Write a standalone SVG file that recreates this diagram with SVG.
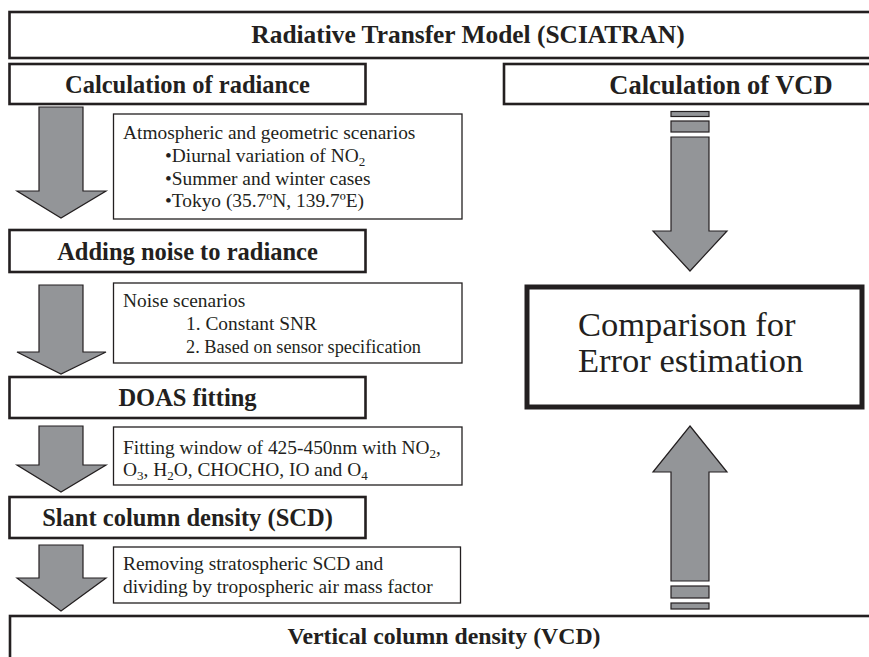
<svg xmlns="http://www.w3.org/2000/svg" width="869" height="657" viewBox="0 0 869 657">
<style>
.proc{fill:#fff;stroke:#231f20;stroke-width:2.6}
.info{fill:#fff;stroke:#231f20;stroke-width:1.3}
.cmp{fill:#fff;stroke:#231f20;stroke-width:5}
.arr{fill:#939598;stroke:#231f20;stroke-width:1.2;stroke-linejoin:miter}
.tb{font-family:"Liberation Serif",serif;font-weight:bold;font-size:24.5px;fill:#231f20;text-anchor:middle}
.tr{font-family:"Liberation Serif",serif;font-size:19.4px;fill:#231f20}
.tc{font-family:"Liberation Serif",serif;font-size:34.5px;fill:#231f20}
.sub{font-size:13px}
</style>
<rect width="869" height="657" fill="#fff"/>
<g id="rtm"><rect class="proc" x="9.5" y="12" width="930" height="46"/><text class="tb" x="468" y="43" style="font-size:25.4px">Radiative Transfer Model (SCIATRAN)</text></g>
<g id="calc-radiance"><rect class="proc" x="9.5" y="64" width="356" height="40"/><text class="tb" x="187.5" y="93">Calculation of radiance</text></g>
<g id="calc-vcd"><rect class="proc" x="504" y="64" width="440" height="40"/><text class="tb" x="721" y="93.5" style="font-size:26.5px">Calculation of VCD</text></g>
<g id="adding-noise"><rect class="proc" x="9.5" y="230" width="356" height="42"/><text class="tb" x="187.5" y="260">Adding noise to radiance</text></g>
<g id="doas"><rect class="proc" x="9.5" y="377" width="356" height="41"/><text class="tb" x="187.5" y="406">DOAS fitting</text></g>
<g id="scd"><rect class="proc" x="9.5" y="497" width="356" height="41"/><text class="tb" x="187.5" y="526">Slant column density (SCD)</text></g>
<g id="vcd"><rect class="proc" x="10" y="616" width="880" height="60"/><text class="tb" x="444" y="644" style="font-size:23.8px">Vertical column density (VCD)</text></g>
<g id="comparison"><rect class="cmp" x="527" y="287" width="335" height="120"/><text class="tc" x="578" y="336">Comparison for</text><text class="tc" x="578" y="372">Error estimation</text></g>
<g id="note-atmos"><rect class="info" x="113.5" y="114" width="348.5" height="105"/>
<text class="tr" x="123" y="138.5">Atmospheric and geometric scenarios</text>
<text class="tr" x="165" y="161.5">•Diurnal variation of NO<tspan class="sub" dy="4">2</tspan></text>
<text class="tr" x="165" y="184.5">•Summer and winter cases</text>
<text class="tr" x="165" y="206.5">•Tokyo (35.7ºN, 139.7ºE)</text></g>
<g id="note-noise"><rect class="info" x="113.5" y="283" width="348.5" height="80"/>
<text class="tr" x="123" y="307">Noise scenarios</text>
<text class="tr" x="186" y="330">1. Constant SNR</text>
<text class="tr" x="186" y="353" textLength="235" lengthAdjust="spacingAndGlyphs">2. Based on sensor specification</text></g>
<g id="note-fit"><rect class="info" x="113.5" y="427" width="348.5" height="58"/>
<text class="tr" x="123" y="454">Fitting window of 425-450nm with NO<tspan class="sub" dy="4">2</tspan><tspan dy="-4">,</tspan></text>
<text class="tr" x="123" y="476">O<tspan class="sub" dy="4">3</tspan><tspan dy="-4">, H</tspan><tspan class="sub" dy="4">2</tspan><tspan dy="-4">O, CHOCHO, IO and O</tspan><tspan class="sub" dy="4">4</tspan></text></g>
<g id="note-amf"><rect class="info" x="113.5" y="547" width="347" height="56"/>
<text class="tr" x="123" y="570">Removing stratospheric SCD and</text>
<text class="tr" x="123" y="593">dividing by tropospheric air mass factor</text></g>
<g id="connectors">
<path class="arr" d="M39,107H83V191H106L61,218L17,191H39Z"/>
<path class="arr" d="M39,285H83V352H106L61,374L17,352H39Z"/>
<path class="arr" d="M39,426H83V465H106L61,492L17,465H39Z"/>
<path class="arr" d="M39,545H83V578H106L61,611L17,578H39Z"/>
<rect class="arr" x="671" y="111.5" width="38" height="5"/>
<rect class="arr" x="671" y="121" width="38" height="11"/>
<path class="arr" d="M671,137H709V231H727L690,271L653,231H671Z"/>
<path class="arr" d="M690,426L727,472H709V581H671V472H653Z"/>
<rect class="arr" x="671" y="586" width="38" height="12"/>
<rect class="arr" x="671" y="603" width="38" height="6"/>
</g>
</svg>
